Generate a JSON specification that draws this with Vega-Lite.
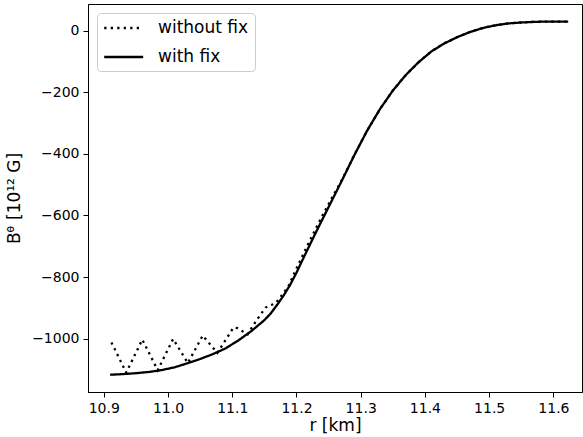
{
  "$schema": "https://vega.github.io/schema/vega-lite/v6.json",
  "autosize": "none",
  "width": 494,
  "height": 388,
  "padding": {"left": 88, "top": 4, "right": 1, "bottom": 45},
  "background": "white",
  "config": {
    "view": {"stroke": "black", "strokeWidth": 1},
    "font": "DejaVu Sans",
    "axis": {"labelFont": "DejaVu Sans", "titleFont": "DejaVu Sans", "labelColor": "black", "titleColor": "black", "domainColor": "black", "tickColor": "black", "labelFontSize": 14, "titleFontSize": 17, "titleFontWeight": "normal", "grid": false, "tickSize": 5, "labelPadding": 4}
  },
  "data": {"values": [
    {"r": 10.91, "B": -1117, "series": "with fix"},
    {"r": 10.93, "B": -1115, "series": "with fix"},
    {"r": 10.95, "B": -1112, "series": "with fix"},
    {"r": 10.97, "B": -1108, "series": "with fix"},
    {"r": 10.99, "B": -1102, "series": "with fix"},
    {"r": 11.01, "B": -1093, "series": "with fix"},
    {"r": 11.03, "B": -1080, "series": "with fix"},
    {"r": 11.05, "B": -1066, "series": "with fix"},
    {"r": 11.07, "B": -1050, "series": "with fix"},
    {"r": 11.09, "B": -1031, "series": "with fix"},
    {"r": 11.11, "B": -1005, "series": "with fix"},
    {"r": 11.13, "B": -975, "series": "with fix"},
    {"r": 11.15, "B": -940, "series": "with fix"},
    {"r": 11.16, "B": -918, "series": "with fix"},
    {"r": 11.17, "B": -890, "series": "with fix"},
    {"r": 11.18, "B": -860, "series": "with fix"},
    {"r": 11.19, "B": -826, "series": "with fix"},
    {"r": 11.2, "B": -786, "series": "with fix"},
    {"r": 11.21, "B": -742, "series": "with fix"},
    {"r": 11.23, "B": -656, "series": "with fix"},
    {"r": 11.25, "B": -573, "series": "with fix"},
    {"r": 11.27, "B": -490, "series": "with fix"},
    {"r": 11.29, "B": -405, "series": "with fix"},
    {"r": 11.31, "B": -325, "series": "with fix"},
    {"r": 11.33, "B": -255, "series": "with fix"},
    {"r": 11.35, "B": -195, "series": "with fix"},
    {"r": 11.37, "B": -145, "series": "with fix"},
    {"r": 11.39, "B": -103, "series": "with fix"},
    {"r": 11.41, "B": -68, "series": "with fix"},
    {"r": 11.43, "B": -42, "series": "with fix"},
    {"r": 11.45, "B": -22, "series": "with fix"},
    {"r": 11.47, "B": -5, "series": "with fix"},
    {"r": 11.49, "B": 8, "series": "with fix"},
    {"r": 11.51, "B": 17, "series": "with fix"},
    {"r": 11.53, "B": 23, "series": "with fix"},
    {"r": 11.55, "B": 26, "series": "with fix"},
    {"r": 11.57, "B": 28, "series": "with fix"},
    {"r": 11.59, "B": 29, "series": "with fix"},
    {"r": 11.61, "B": 29, "series": "with fix"},
    {"r": 11.623, "B": 29, "series": "with fix"},
    {"r": 10.912, "B": -1012, "series": "without fix"},
    {"r": 10.935, "B": -1110, "series": "without fix"},
    {"r": 10.96, "B": -1003, "series": "without fix"},
    {"r": 10.984, "B": -1102, "series": "without fix"},
    {"r": 11.008, "B": -1001, "series": "without fix"},
    {"r": 11.031, "B": -1079, "series": "without fix"},
    {"r": 11.054, "B": -990, "series": "without fix"},
    {"r": 11.077, "B": -1046, "series": "without fix"},
    {"r": 11.102, "B": -964, "series": "without fix"},
    {"r": 11.108, "B": -966, "series": "without fix"},
    {"r": 11.124, "B": -986, "series": "without fix"},
    {"r": 11.133, "B": -956, "series": "without fix"},
    {"r": 11.145, "B": -919, "series": "without fix"},
    {"r": 11.152, "B": -899, "series": "without fix"},
    {"r": 11.16, "B": -891, "series": "without fix"},
    {"r": 11.167, "B": -886, "series": "without fix"},
    {"r": 11.18, "B": -852, "series": "without fix"},
    {"r": 11.188, "B": -828, "series": "without fix"},
    {"r": 11.195, "B": -795, "series": "without fix"},
    {"r": 11.2, "B": -772, "series": "without fix"},
    {"r": 11.22, "B": -685, "series": "without fix"},
    {"r": 11.24, "B": -602, "series": "without fix"},
    {"r": 11.26, "B": -525, "series": "without fix"},
    {"r": 11.27, "B": -488, "series": "without fix"},
    {"r": 11.29, "B": -404, "series": "without fix"},
    {"r": 11.31, "B": -325, "series": "without fix"},
    {"r": 11.33, "B": -255, "series": "without fix"},
    {"r": 11.35, "B": -195, "series": "without fix"},
    {"r": 11.37, "B": -145, "series": "without fix"},
    {"r": 11.39, "B": -103, "series": "without fix"},
    {"r": 11.41, "B": -68, "series": "without fix"},
    {"r": 11.43, "B": -42, "series": "without fix"},
    {"r": 11.45, "B": -22, "series": "without fix"},
    {"r": 11.47, "B": -5, "series": "without fix"},
    {"r": 11.49, "B": 8, "series": "without fix"},
    {"r": 11.51, "B": 17, "series": "without fix"},
    {"r": 11.53, "B": 23, "series": "without fix"},
    {"r": 11.55, "B": 26, "series": "without fix"},
    {"r": 11.57, "B": 28, "series": "without fix"},
    {"r": 11.59, "B": 29, "series": "without fix"},
    {"r": 11.61, "B": 29, "series": "without fix"},
    {"r": 11.623, "B": 29, "series": "without fix"}
  ]},
  "mark": {"type": "line", "color": "black", "strokeWidth": 2.3, "clip": true},
  "encoding": {
    "x": {"field": "r", "type": "quantitative", "title": "r [km]",
      "scale": {"domain": [10.8755, 11.6445], "nice": false, "zero": false},
      "axis": {"values": [10.9, 11.0, 11.1, 11.2, 11.3, 11.4, 11.5, 11.6], "format": ".1f", "titlePadding": 2}},
    "y": {"field": "B", "type": "quantitative", "title": "Bᶿ [10¹² G]",
      "scale": {"domain": [-1173, 86], "nice": false, "zero": false},
      "axis": {"values": [0, -200, -400, -600, -800, -1000], "format": "d", "titlePadding": 8}},
    "strokeDash": {"field": "series", "type": "nominal", "title": null,
      "scale": {"domain": ["without fix", "with fix"], "range": [[2.3, 4.2], [1, 0]]},
      "legend": {"orient": "top-left", "offset": 9, "labelFontSize": 17, "labelFont": "DejaVu Sans", "labelColor": "black",
        "symbolType": "M-1,0H4", "symbolSize": 243, "symbolStrokeWidth": 2.3, "symbolStrokeColor": "black", "symbolFillColor": "transparent",
        "fillColor": "white", "strokeColor": "#cccccc", "cornerRadius": 4, "padding": 6, "rowPadding": 12, "labelOffset": 37}},
    "order": {"field": "r", "type": "quantitative"}
  }
}
